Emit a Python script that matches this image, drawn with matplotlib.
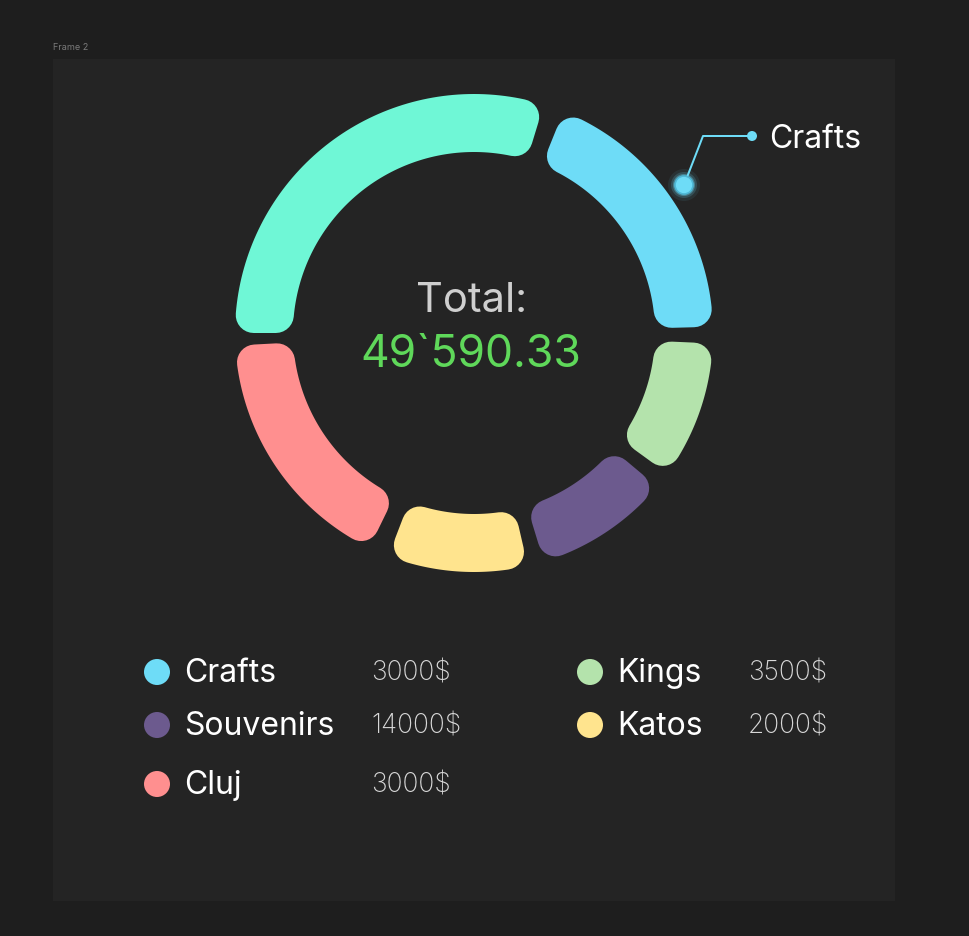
import numpy as np
import matplotlib.pyplot as plt
from matplotlib.patches import Polygon, Circle, Rectangle

plt.rcParams['font.family'] = ['Inter', 'DejaVu Sans']

# ring segments (arc size in degrees), clockwise from 9 o'clock
ring_colors = ['#6ff7d6', '#6edcf7', '#b4e3ac', '#6c5a8e', '#ffe48e', '#ff8f8f']
ring_spans = [107, 66.5, 33.5, 33, 34, 61]

# legend entries
legend_names = ['Crafts', 'Souvenirs', 'Cluj', 'Kings', 'Katos']
legend_values = [3000, 14000, 3000, 3500, 2000]
legend_colors = ['#6edcf7', '#6c5a8e', '#ff8f8f', '#b4e3ac', '#ffe48e']

total_label = 'Total:'
total_value = '49`590.33'
callout_label = 'Crafts'

W, H = 969, 937
PT = 72 / 100  # points per pixel

fig = plt.figure(figsize=(W / 100, H / 100), dpi=100)
fig.patch.set_facecolor('#1e1e1e')
ax = fig.add_axes([0, 0, 1, 1])
ax.set_xlim(0, W)
ax.set_ylim(H, 0)
ax.axis('off')

# frame
ax.add_patch(Rectangle((53, 60), 842, 842, facecolor='#242424', edgecolor='none'))
ax.text(53, 47, 'Frame 2', color='#7a7a7a', fontsize=6.5, va='center', ha='left')

# donut
cx, cy = 474, 334
r_in, r_out = 181, 239
rc = 18
gaps = [5, 4, 4, 4, 5, 3]  # spacing after each segment, degrees


def seg_poly(a0, a1):
    # a0 > a1 in degrees (clockwise), shrunk by rc, later fattened with round joins
    ri, ro = r_in + rc, r_out - rc
    pts = []
    do = np.degrees(np.arcsin(rc / ro))
    di = np.degrees(np.arcsin(rc / ri))
    for t in np.linspace(a0 - do, a1 + do, 80):
        pts.append((cx + ro * np.cos(np.radians(t)), cy - ro * np.sin(np.radians(t))))
    for t in np.linspace(a1 + di, a0 - di, 80):
        pts.append((cx + ri * np.cos(np.radians(t)), cy - ri * np.sin(np.radians(t))))
    return pts


a = 180
for span, g, col in zip(ring_spans, gaps, ring_colors):
    a0, a1 = a, a - span
    ax.add_patch(Polygon(seg_poly(a0, a1), closed=True, facecolor=col, edgecolor=col,
                         linewidth=2 * rc * PT, joinstyle='round'))
    a = a1 - g

# centre text
ax.text(cx - 2, 301, total_label, color='#cfcfcf', fontsize=30, ha='center', va='center')
ax.text(cx - 3, 355, total_value, color='#5fd85a', fontsize=32, ha='center', va='center')

# callout
line_col = '#6edcf7'
ax.plot([684, 703, 752], [186, 137, 137], color=line_col, linewidth=2 * PT, zorder=3)
for rr, al in [(16, 0.08), (13, 0.18), (11, 0.35)]:
    ax.add_patch(Circle((684, 186), rr, facecolor='#6edcf7', edgecolor='none', alpha=al, zorder=3))
ax.add_patch(Circle((684, 186), 9, facecolor='#6edcf7', edgecolor='#4fb8d6', linewidth=1.2, zorder=4))
ax.add_patch(Circle((752, 137), 5, facecolor=line_col, edgecolor='none', zorder=4))
ax.text(769, 139, callout_label, color='white', fontsize=23, ha='left', va='center')

# legend
positions = [(157, 673), (157, 726), (157, 785), (590, 673), (590, 726)]
val_x = [371, 371, 371, 748, 748]
for (x, y), vx, name, val, col in zip(positions, val_x, legend_names, legend_values, legend_colors):
    ax.add_patch(Circle((x, y), 13, facecolor=col, edgecolor='none'))
    ax.text(x + 27, y + 1, name, color='white', fontsize=23, ha='left', va='center')
    ax.text(vx, y + 1, f'{val}$', color='#d8d8d8', fontsize=19, fontweight='light',
            ha='left', va='center')

fig.savefig('out.png', dpi=100, facecolor=fig.get_facecolor())
